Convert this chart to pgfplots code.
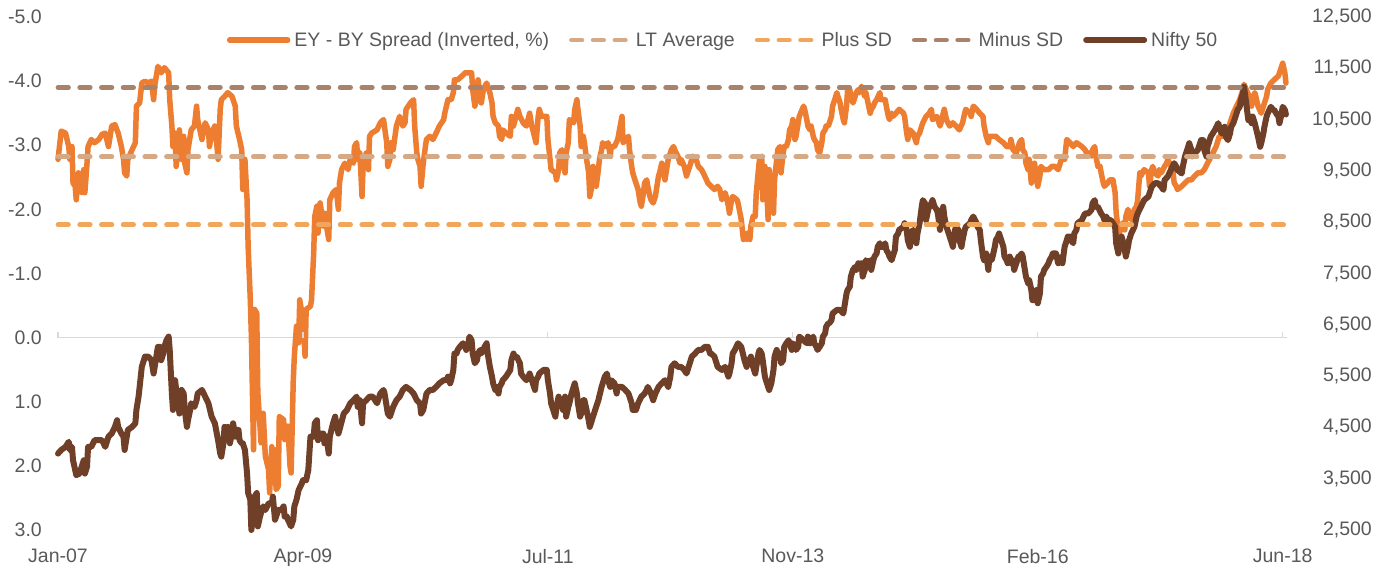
\documentclass[border=0pt]{standalone}
\usepackage{fontspec}
\setmainfont{Liberation Sans}
\usepackage{pgfplots}
\pgfplotsset{compat=1.18}
\definecolor{cSpread}{HTML}{ED7D31}
\definecolor{cLT}{HTML}{D5A886}
\definecolor{cPlus}{HTML}{F0A75C}
\definecolor{cMinus}{HTML}{A9826C}
\definecolor{cNifty}{HTML}{6F3F28}
\definecolor{cText}{HTML}{595959}
\definecolor{cAxis}{HTML}{D9D9D9}
\pgfplotsset{
  base/.style={scale only axis, width=1229bp, height=513bp,
    xmin=2007, xmax=2018.44, clip=false, scaled ticks=false,
    axis line style={draw=none}, major tick length=0pt,
    tick label style={text=cText, font=\fontsize{19.5bp}{23bp}\selectfont}},
  spread/.style={color=cSpread, line width=5.5bp, line join=round, line cap=round},
  nifty/.style={color=cNifty, line width=6bp, line join=round, line cap=round},
  dashl/.style={line width=4.7bp, line cap=round, dash pattern=on 10.5bp off 11.2bp},
}
\begin{document}
\begin{tikzpicture}
\useasboundingbox (-58bp,-40bp) rectangle (1330bp,530bp);
% ---------- left axis: spread ----------
\begin{axis}[base, ymin=-5, ymax=3, y dir=reverse,
  axis x line*=bottom, axis y line*=left, xtick=\empty,
  ytick={-5,-4,-3,-2,-1,0,1,2,3},
  yticklabels={-5.0,-4.0,-3.0,-2.0,-1.0,0.0,1.0,2.0,3.0},
  yticklabel style={inner sep=0pt, anchor=east, xshift=-16bp}]
\addplot[cAxis, line width=1.4bp] coordinates {(2007,0) (2018.44,0)};
\addplot[cAxis, only marks, mark=|, mark size=2.6bp,
  mark options={yshift=2.6bp, line width=1.2bp}]
  coordinates {(2007,0) (2009.28,0) (2011.56,0) (2013.84,0) (2016.12,0) (2018.40,0)};
\addplot[spread] coordinates {
(2007.00,-2.78)(2007.03,-3.22)(2007.07,-3.19)(2007.10,-2.98)(2007.11,-2.78)(2007.13,-2.98)(2007.14,-2.41)(2007.16,-2.36)(2007.17,-2.15)(2007.19,-2.57)(2007.20,-2.31)(2007.22,-2.26)(2007.24,-2.62)(2007.25,-2.26)(2007.27,-2.72)(2007.28,-2.98)(2007.31,-3.09)(2007.34,-3.04)(2007.38,-3.09)(2007.41,-3.17)(2007.44,-3.19)(2007.47,-2.98)(2007.50,-3.30)(2007.53,-3.32)(2007.56,-3.19)(2007.59,-2.98)(2007.61,-2.78)(2007.62,-2.57)(2007.64,-2.52)(2007.65,-2.78)(2007.69,-2.93)(2007.72,-3.04)(2007.73,-3.61)(2007.76,-3.66)(2007.78,-3.97)(2007.81,-4.00)(2007.84,-3.97)(2007.87,-4.00)(2007.89,-3.71)(2007.90,-3.92)(2007.93,-4.23)(2007.96,-4.13)(2007.99,-4.21)(2008.03,-4.13)(2008.04,-3.71)(2008.06,-3.30)(2008.07,-2.98)(2008.09,-3.19)(2008.10,-2.67)(2008.12,-3.04)(2008.13,-3.24)(2008.15,-2.78)(2008.17,-3.14)(2008.18,-2.72)(2008.20,-2.57)(2008.21,-2.93)(2008.24,-3.24)(2008.27,-3.30)(2008.29,-3.61)(2008.30,-3.40)(2008.34,-3.09)(2008.37,-3.35)(2008.40,-3.24)(2008.41,-2.98)(2008.43,-3.19)(2008.46,-3.30)(2008.48,-2.98)(2008.49,-2.78)(2008.51,-3.56)(2008.52,-3.71)(2008.55,-3.76)(2008.58,-3.82)(2008.62,-3.76)(2008.65,-3.61)(2008.66,-3.30)(2008.69,-3.09)(2008.71,-2.93)(2008.72,-2.31)(2008.74,-2.78)(2008.76,-2.15)(2008.77,-1.42)(2008.79,-0.59)(2008.80,-0.02)(2008.82,1.75)(2008.83,-0.44)(2008.85,-0.38)(2008.86,0.86)(2008.89,1.64)(2008.91,1.18)(2008.93,1.85)(2008.96,2.06)(2008.97,2.42)(2008.99,1.70)(2009.00,1.90)(2009.02,1.75)(2009.03,2.37)(2009.05,2.32)(2009.06,1.23)(2009.10,1.28)(2009.11,1.59)(2009.14,1.38)(2009.16,2.01)(2009.17,2.11)(2009.19,0.66)(2009.20,0.29)(2009.22,-0.18)(2009.24,0.08)
(2009.25,-0.59)(2009.28,-0.28)(2009.30,0.29)(2009.31,-0.44)(2009.35,-0.49)(2009.36,-0.59)(2009.38,-1.32)(2009.39,-1.89)(2009.41,-2.05)(2009.42,-1.63)(2009.44,-2.10)(2009.47,-1.74)(2009.48,-1.94)(2009.52,-1.53)(2009.53,-2.15)(2009.56,-2.26)(2009.59,-2.31)(2009.61,-2.00)(2009.62,-2.41)(2009.64,-2.62)(2009.67,-2.72)(2009.70,-2.62)(2009.72,-2.78)(2009.75,-2.72)(2009.76,-2.98)(2009.78,-3.04)(2009.79,-2.78)(2009.81,-2.88)(2009.83,-2.20)(2009.84,-2.67)(2009.87,-2.88)(2009.89,-2.62)(2009.90,-3.14)(2009.92,-3.19)(2009.97,-3.24)(2010.00,-3.35)(2010.03,-3.40)(2010.06,-3.04)(2010.07,-2.67)(2010.09,-2.78)(2010.10,-3.04)(2010.12,-2.93)(2010.15,-3.30)(2010.18,-3.45)(2010.21,-3.30)(2010.23,-3.35)(2010.24,-3.56)(2010.28,-3.66)(2010.31,-3.71)(2010.32,-3.30)(2010.34,-2.88)(2010.35,-2.78)(2010.37,-2.67)(2010.38,-2.36)(2010.40,-2.72)(2010.42,-2.98)(2010.43,-3.09)(2010.46,-3.14)(2010.49,-3.09)(2010.52,-3.19)(2010.55,-3.30)(2010.59,-3.40)(2010.60,-3.50)(2010.63,-3.71)(2010.66,-3.71)(2010.68,-3.82)(2010.69,-4.02)(2010.72,-4.02)(2010.76,-4.08)(2010.79,-4.13)(2010.82,-4.13)(2010.85,-4.13)(2010.86,-3.87)(2010.88,-3.61)(2010.90,-3.76)(2010.91,-4.02)(2010.93,-3.76)(2010.94,-3.66)(2010.96,-3.87)(2010.99,-3.97)(2011.02,-3.82)(2011.04,-3.66)(2011.05,-3.45)(2011.07,-3.35)(2011.10,-3.30)(2011.11,-3.14)(2011.13,-3.09)(2011.14,-3.24)(2011.17,-3.19)(2011.21,-3.14)(2011.22,-3.45)(2011.24,-3.30)(2011.28,-3.56)(2011.30,-3.45)(2011.33,-3.35)(2011.36,-3.30)(2011.39,-3.50)(2011.41,-3.30)(2011.42,-3.24)(2011.45,-3.04)(2011.47,-3.45)(2011.48,-3.56)(2011.50,-3.45)(2011.53,-3.45)
(2011.55,-3.45)(2011.56,-3.09)(2011.58,-2.78)(2011.59,-2.62)(2011.63,-2.57)(2011.64,-2.46)(2011.66,-2.62)(2011.67,-2.88)(2011.69,-2.93)(2011.70,-2.78)(2011.72,-2.57)(2011.73,-2.88)(2011.75,-3.04)(2011.76,-3.40)(2011.80,-3.35)(2011.81,-3.56)(2011.83,-3.71)(2011.84,-3.56)(2011.86,-3.30)(2011.87,-2.98)(2011.89,-3.14)(2011.90,-3.04)(2011.92,-2.78)(2011.94,-2.57)(2011.95,-2.20)(2011.97,-2.36)(2011.98,-2.67)(2012.00,-2.57)(2012.01,-2.36)(2012.03,-2.62)(2012.04,-2.78)(2012.06,-2.93)(2012.07,-3.04)(2012.09,-2.98)(2012.12,-3.04)(2012.14,-2.83)(2012.15,-2.98)(2012.18,-2.98)(2012.21,-3.09)(2012.25,-3.45)(2012.26,-3.04)(2012.29,-3.09)(2012.31,-3.14)(2012.32,-2.93)(2012.34,-2.67)(2012.35,-2.57)(2012.37,-2.46)(2012.38,-2.41)(2012.40,-2.31)(2012.42,-2.10)(2012.43,-2.05)(2012.45,-2.26)(2012.46,-2.41)(2012.48,-2.46)(2012.49,-2.36)(2012.51,-2.20)(2012.52,-2.15)(2012.54,-2.10)(2012.56,-2.20)(2012.59,-2.52)(2012.60,-2.57)(2012.62,-2.72)(2012.63,-2.62)(2012.65,-2.46)(2012.66,-2.57)(2012.68,-2.78)(2012.71,-2.93)(2012.73,-2.98)(2012.74,-2.93)(2012.77,-2.83)(2012.79,-2.72)(2012.80,-2.78)(2012.83,-2.67)(2012.85,-2.52)(2012.87,-2.62)(2012.88,-2.67)(2012.90,-2.78)(2012.91,-2.83)(2012.94,-2.78)(2012.96,-2.67)(2012.99,-2.62)(2013.02,-2.52)(2013.05,-2.41)(2013.08,-2.36)(2013.11,-2.31)(2013.14,-2.36)(2013.16,-2.31)(2013.18,-2.15)(2013.21,-2.26)(2013.22,-2.20)(2013.24,-2.05)(2013.25,-1.94)(2013.27,-2.15)(2013.28,-2.20)(2013.32,-2.15)(2013.33,-2.10)(2013.36,-1.84)(2013.38,-1.53)(2013.39,-1.58)(2013.41,-1.53)(2013.42,-1.63)(2013.44,-1.53)(2013.45,-1.74)(2013.47,-1.89)(2013.49,-1.89)(2013.50,-2.26)(2013.52,-2.62)(2013.53,-2.78)(2013.55,-2.83)(2013.56,-2.15)(2013.58,-2.67)(2013.59,-2.57)(2013.61,-1.84)(2013.62,-2.62)(2013.64,-2.26)(2013.66,-1.94)(2013.67,-2.46)(2013.69,-2.78)(2013.70,-2.93)(2013.72,-2.98)(2013.73,-2.57)(2013.75,-2.88)(2013.76,-2.98)(2013.78,-2.98)(2013.80,-3.09)(2013.81,-3.24)
(2013.83,-3.30)(2013.84,-3.40)(2013.86,-3.09)(2013.87,-3.14)(2013.89,-3.35)(2013.90,-3.45)(2013.94,-3.61)(2013.95,-3.56)(2013.97,-3.40)(2013.98,-3.30)(2014.00,-3.24)(2014.01,-3.30)(2014.03,-3.14)(2014.04,-3.09)(2014.06,-3.04)(2014.07,-2.93)(2014.09,-2.88)(2014.11,-3.04)(2014.12,-3.19)(2014.14,-3.24)(2014.15,-3.30)(2014.17,-3.30)(2014.18,-3.35)(2014.20,-3.45)(2014.21,-3.61)(2014.23,-3.71)(2014.25,-3.82)(2014.26,-3.76)(2014.28,-3.66)(2014.29,-3.56)(2014.31,-3.40)(2014.32,-3.35)(2014.34,-3.61)(2014.35,-3.87)(2014.37,-3.87)(2014.38,-3.76)(2014.40,-3.66)(2014.42,-3.76)(2014.43,-3.82)(2014.45,-3.87)(2014.46,-3.82)(2014.48,-3.92)(2014.49,-3.87)(2014.51,-3.76)(2014.52,-3.82)(2014.54,-3.66)(2014.56,-3.50)(2014.57,-3.56)(2014.59,-3.61)(2014.60,-3.66)(2014.62,-3.71)(2014.65,-3.82)(2014.66,-3.71)(2014.70,-3.71)(2014.71,-3.61)(2014.73,-3.45)(2014.74,-3.40)(2014.76,-3.50)(2014.77,-3.45)(2014.80,-3.50)(2014.83,-3.56)(2014.87,-3.50)(2014.88,-3.45)(2014.90,-3.19)(2014.91,-3.09)(2014.93,-3.24)(2014.96,-3.19)(2014.97,-3.14)(2014.99,-3.04)(2015.00,-3.14)(2015.02,-3.19)(2015.04,-3.30)(2015.05,-3.35)(2015.08,-3.45)(2015.11,-3.50)(2015.13,-3.56)(2015.14,-3.40)(2015.18,-3.45)(2015.21,-3.30)(2015.22,-3.35)(2015.24,-3.50)(2015.25,-3.56)(2015.27,-3.40)(2015.30,-3.30)(2015.33,-3.35)(2015.36,-3.30)(2015.39,-3.24)(2015.42,-3.35)(2015.44,-3.50)(2015.45,-3.56)(2015.49,-3.50)(2015.50,-3.45)(2015.52,-3.61)(2015.55,-3.56)(2015.58,-3.50)(2015.61,-3.45)(2015.62,-3.30)(2015.64,-3.14)(2015.66,-3.04)(2015.67,-3.14)(2015.70,-3.14)(2015.73,-3.14)(2015.76,-3.09)(2015.80,-3.04)(2015.83,-2.98)(2015.86,-2.98)(2015.87,-3.09)(2015.89,-2.93)(2015.92,-2.88)(2015.95,-3.04)(2015.97,-3.09)(2015.98,-2.93)(2016.00,-2.88)(2016.01,-2.72)(2016.03,-2.62)(2016.04,-2.78)(2016.06,-2.41)(2016.07,-2.57)(2016.09,-2.72)
(2016.11,-2.46)(2016.12,-2.36)(2016.14,-2.52)(2016.15,-2.67)(2016.18,-2.62)(2016.22,-2.62)(2016.25,-2.67)(2016.28,-2.67)(2016.31,-2.62)(2016.34,-2.78)(2016.37,-2.78)(2016.39,-3.09)(2016.42,-3.04)(2016.45,-2.98)(2016.48,-3.04)(2016.53,-2.98)(2016.56,-2.93)(2016.59,-2.83)(2016.60,-2.88)(2016.62,-2.83)(2016.63,-2.93)(2016.65,-2.98)(2016.66,-2.83)(2016.68,-2.67)(2016.70,-2.67)(2016.71,-2.57)(2016.73,-2.41)(2016.74,-2.36)(2016.77,-2.41)(2016.79,-2.46)(2016.82,-2.46)(2016.84,-2.26)(2016.85,-1.94)(2016.87,-1.68)(2016.88,-1.63)(2016.90,-1.74)(2016.91,-1.79)(2016.93,-1.68)(2016.94,-1.89)(2016.96,-2.00)(2016.97,-1.94)(2016.99,-1.84)(2017.01,-1.94)(2017.02,-2.00)(2017.04,-2.05)(2017.05,-2.15)(2017.07,-2.57)(2017.08,-2.52)(2017.11,-2.62)(2017.15,-2.57)(2017.16,-2.36)(2017.18,-2.62)(2017.19,-2.67)(2017.21,-2.57)(2017.24,-2.52)(2017.25,-2.62)(2017.27,-2.57)(2017.30,-2.67)(2017.32,-2.72)(2017.33,-2.78)(2017.36,-2.67)(2017.38,-2.57)(2017.39,-2.41)(2017.41,-2.36)(2017.42,-2.31)(2017.46,-2.36)(2017.49,-2.41)(2017.52,-2.46)(2017.55,-2.46)(2017.58,-2.52)(2017.61,-2.57)(2017.64,-2.57)(2017.67,-2.62)(2017.70,-2.72)(2017.72,-2.78)(2017.73,-2.83)(2017.75,-2.88)(2017.78,-2.98)(2017.81,-3.14)(2017.84,-3.14)(2017.87,-3.19)(2017.90,-3.30)(2017.94,-3.50)(2017.97,-3.61)(2018.00,-3.71)(2018.03,-3.87)(2018.04,-3.95)(2018.06,-3.87)(2018.09,-3.76)(2018.11,-3.61)(2018.12,-3.71)(2018.14,-3.82)(2018.15,-3.76)(2018.17,-3.61)(2018.20,-3.50)(2018.23,-3.66)(2018.25,-3.76)(2018.26,-3.87)(2018.29,-3.97)(2018.32,-4.02)(2018.36,-4.08)(2018.37,-4.13)(2018.39,-4.23)(2018.40,-4.28)(2018.42,-4.13)(2018.43,-3.97)
};
\end{axis}
% ---------- right axis: Nifty ----------
\begin{axis}[base, ymin=2500, ymax=12500,
  axis x line*=bottom, axis y line*=right,
  xtick={2007,2009.28,2011.56,2013.84,2016.12,2018.40},
  xticklabels={Jan-07,Apr-09,Jul-11,Nov-13,Feb-16,Jun-18},
  xticklabel style={inner sep=0pt, anchor=north, yshift=-19bp},
  ytick={2500,3500,4500,5500,6500,7500,8500,9500,10500,11500,12500},
  yticklabels={{2,500},{3,500},{4,500},{5,500},{6,500},{7,500},{8,500},{9,500},{10,500},{11,500},{12,500}},
  yticklabel style={inner sep=0pt, anchor=east, xshift=85bp}]
\addplot[nifty] coordinates {
(2007.00,3990)(2007.03,4060)(2007.07,4120)(2007.10,4220)(2007.11,4060)(2007.13,4120)(2007.14,3860)(2007.16,3670)(2007.17,3570)(2007.20,3600)(2007.22,3730)(2007.24,3860)(2007.25,3600)(2007.27,3730)(2007.28,4120)(2007.31,4120)(2007.34,4250)(2007.38,4250)(2007.41,4250)(2007.44,4120)(2007.45,4190)(2007.47,4320)(2007.50,4380)(2007.53,4510)(2007.55,4640)(2007.56,4510)(2007.59,4380)(2007.61,4320)(2007.62,4060)(2007.64,4320)(2007.65,4450)(2007.69,4510)(2007.72,4580)(2007.73,4840)(2007.75,5100)(2007.76,5290)(2007.78,5680)(2007.79,5750)(2007.81,5880)(2007.84,5880)(2007.87,5810)(2007.89,5550)(2007.90,5680)(2007.92,5940)(2007.93,6070)(2007.95,6070)(2007.96,5810)(2007.98,5940)(2007.99,6070)(2008.01,6200)(2008.03,6270)(2008.04,6010)(2008.06,5160)(2008.07,4840)(2008.09,5420)(2008.10,5230)(2008.12,4970)(2008.13,4770)(2008.15,5230)(2008.17,5160)(2008.18,4840)(2008.20,4510)(2008.21,4640)(2008.23,4840)(2008.24,4970)(2008.27,4900)(2008.29,5030)(2008.30,5160)(2008.34,5230)(2008.37,5100)(2008.40,4970)(2008.43,4710)(2008.46,4580)(2008.49,4250)(2008.51,3990)(2008.52,3930)(2008.54,4190)(2008.55,4510)(2008.57,4450)(2008.58,4510)(2008.60,4190)(2008.62,4380)(2008.63,4580)(2008.65,4320)(2008.66,4450)(2008.68,4450)(2008.69,4250)(2008.71,4190)(2008.72,4190)(2008.74,4060)(2008.76,3600)(2008.77,3220)(2008.79,3090)(2008.80,2500)(2008.82,2830)(2008.83,3150)(2008.85,3220)(2008.86,2570)(2008.88,2760)(2008.89,2830)(2008.91,2960)(2008.93,2890)(2008.96,3020)(2008.99,3020)(2009.00,3150)(2009.02,2700)(2009.03,2760)(2009.05,2890)(2009.08,2890)(2009.10,2960)(2009.11,2760)(2009.13,2760)(2009.14,2700)(2009.17,2570)(2009.19,2700)(2009.20,2960)(2009.22,3090)(2009.24,3280)
(2009.27,3410)(2009.28,3470)(2009.31,3470)(2009.33,3670)(2009.35,4320)(2009.38,4320)(2009.39,4580)(2009.41,4640)(2009.42,4250)(2009.44,4380)(2009.47,4380)(2009.48,4190)(2009.50,4320)(2009.52,3990)(2009.53,4320)(2009.56,4580)(2009.58,4710)(2009.59,4580)(2009.61,4380)(2009.62,4450)(2009.66,4770)(2009.69,4840)(2009.72,4970)(2009.75,5030)(2009.78,5100)(2009.79,4900)(2009.81,5030)(2009.83,4580)(2009.84,4970)(2009.87,5030)(2009.90,5100)(2009.93,5100)(2009.97,4970)(2010.00,5160)(2010.03,5230)(2010.04,5160)(2010.06,4900)(2010.07,4770)(2010.09,4710)(2010.12,4900)(2010.15,5030)(2010.18,5100)(2010.21,5230)(2010.24,5290)(2010.28,5230)(2010.31,5160)(2010.34,5030)(2010.37,4970)(2010.38,4770)(2010.40,4840)(2010.43,5160)(2010.46,5230)(2010.49,5230)(2010.52,5290)(2010.55,5360)(2010.59,5420)(2010.62,5420)(2010.63,5490)(2010.65,5360)(2010.66,5420)(2010.68,5620)(2010.69,5940)(2010.71,5940)(2010.72,6010)(2010.74,6070)(2010.77,6140)(2010.79,6070)(2010.80,6010)(2010.82,6140)(2010.83,6270)(2010.85,6200)(2010.86,5940)(2010.88,5750)(2010.90,5810)(2010.91,5940)(2010.93,6010)(2010.94,5940)(2010.96,6010)(2010.97,6070)(2010.99,6140)(2011.00,5940)(2011.02,5680)(2011.04,5490)(2011.05,5360)(2011.07,5230)(2011.08,5290)(2011.10,5160)(2011.11,5290)(2011.13,5360)(2011.14,5420)(2011.17,5490)(2011.21,5620)(2011.22,5810)(2011.24,5940)(2011.25,5880)(2011.27,5880)(2011.30,5750)(2011.31,5550)(2011.33,5490)(2011.36,5420)(2011.38,5490)(2011.39,5550)(2011.42,5360)(2011.44,5230)(2011.45,5420)(2011.47,5490)(2011.48,5550)(2011.52,5620)
(2011.55,5620)(2011.56,5420)(2011.58,5160)(2011.59,4970)(2011.61,4840)(2011.63,4710)(2011.64,4900)(2011.66,5100)(2011.67,5030)(2011.69,4970)(2011.70,4840)(2011.72,5100)(2011.73,4710)(2011.75,4900)(2011.76,4970)(2011.78,5160)(2011.80,5290)(2011.81,5360)(2011.83,5160)(2011.84,4970)(2011.86,4710)(2011.87,4770)(2011.89,5030)(2011.90,5030)(2011.92,4840)(2011.94,4640)(2011.95,4510)(2011.97,4640)(2011.98,4710)(2012.00,4840)(2012.03,5030)(2012.06,5290)(2012.09,5490)(2012.11,5550)(2012.12,5420)(2012.14,5290)(2012.15,5420)(2012.18,5360)(2012.20,5160)(2012.21,5290)(2012.25,5290)(2012.28,5230)(2012.31,5160)(2012.34,4970)(2012.35,4840)(2012.38,4840)(2012.40,4970)(2012.43,5100)(2012.46,5160)(2012.48,5230)(2012.49,5290)(2012.52,5160)(2012.54,5030)(2012.56,5160)(2012.59,5290)(2012.62,5360)(2012.65,5420)(2012.68,5290)(2012.70,5490)(2012.71,5680)(2012.74,5750)(2012.77,5680)(2012.80,5680)(2012.83,5620)(2012.85,5550)(2012.87,5680)(2012.90,5880)(2012.93,5940)(2012.96,6010)(2012.99,6010)(2013.02,6070)(2013.05,6070)(2013.07,5940)(2013.08,5940)(2013.11,5880)(2013.13,5750)(2013.14,5680)(2013.18,5620)(2013.21,5680)(2013.22,5620)(2013.24,5490)(2013.25,5550)(2013.27,5750)(2013.28,5940)(2013.30,6010)(2013.33,6140)(2013.36,6070)(2013.39,5810)(2013.41,5680)(2013.42,5750)(2013.45,5880)(2013.47,5680)(2013.49,5550)(2013.52,5940)(2013.53,6010)(2013.55,5940)(2013.56,5810)(2013.58,5490)(2013.59,5420)(2013.61,5290)(2013.62,5230)(2013.64,5360)(2013.66,5620)(2013.67,5880)(2013.69,6010)(2013.70,5940)(2013.72,5940)(2013.73,5750)(2013.75,5810)(2013.76,6070)(2013.78,6140)(2013.80,6200)
(2013.83,6010)(2013.84,6140)(2013.86,6070)(2013.87,6010)(2013.89,6070)(2013.90,6270)(2013.94,6200)(2013.97,6140)(2013.98,6270)(2014.00,6140)(2014.01,6200)(2014.03,6270)(2014.04,6140)(2014.06,6070)(2014.07,6010)(2014.09,6070)(2014.11,6140)(2014.12,6270)(2014.14,6330)(2014.15,6460)(2014.17,6530)(2014.18,6530)(2014.20,6590)(2014.21,6720)(2014.25,6790)(2014.28,6790)(2014.31,6720)(2014.32,6850)(2014.34,7110)(2014.35,7180)(2014.37,7240)(2014.38,7440)(2014.40,7570)(2014.42,7630)(2014.43,7570)(2014.45,7700)(2014.46,7630)(2014.48,7700)(2014.49,7440)(2014.51,7570)(2014.52,7760)(2014.54,7700)(2014.56,7760)(2014.57,7570)(2014.59,7760)(2014.60,7830)(2014.62,7890)(2014.63,8020)(2014.65,8090)(2014.66,8020)(2014.68,8020)(2014.70,8090)(2014.71,7960)(2014.73,7890)(2014.74,7830)(2014.76,7760)(2014.77,7830)(2014.79,7960)(2014.80,8220)(2014.82,8280)(2014.83,8350)(2014.87,8410)(2014.88,8480)(2014.90,8350)(2014.91,8150)(2014.93,8020)(2014.94,8280)(2014.96,8350)(2014.97,8220)(2014.99,8090)(2015.00,8280)(2015.02,8480)(2015.04,8800)(2015.05,8930)(2015.07,8870)(2015.08,8540)(2015.10,8740)(2015.11,8800)(2015.13,8870)(2015.14,8930)(2015.16,8800)(2015.18,8740)(2015.19,8670)(2015.21,8350)(2015.22,8670)(2015.24,8800)(2015.25,8610)(2015.27,8410)(2015.28,8350)(2015.30,8220)(2015.32,8090)(2015.33,8020)(2015.35,8350)(2015.36,8410)(2015.38,8350)(2015.39,8150)(2015.41,8020)(2015.42,8150)(2015.44,8350)(2015.45,8410)(2015.49,8480)(2015.50,8540)(2015.52,8610)(2015.55,8480)(2015.56,8410)(2015.58,8350)(2015.59,8150)(2015.61,7830)(2015.62,7760)(2015.64,7890)(2015.66,7570)(2015.67,7830)(2015.69,7760)(2015.70,7830)(2015.72,8020)(2015.73,8150)(2015.75,8220)(2015.76,8280)(2015.78,8150)(2015.80,8020)(2015.81,7830)(2015.83,7760)(2015.84,7700)(2015.86,7830)(2015.87,7700)(2015.89,7760)(2015.90,7570)(2015.92,7700)(2015.94,7830)(2015.95,7830)(2015.97,7890)(2015.98,7830)(2016.00,7570)(2016.01,7440)(2016.03,7310)(2016.04,7370)(2016.06,7180)(2016.07,6980)(2016.09,6980)
(2016.11,7180)(2016.12,6920)(2016.14,7110)(2016.15,7440)(2016.17,7500)(2016.18,7570)(2016.20,7630)(2016.22,7700)(2016.23,7760)(2016.25,7830)(2016.26,7890)(2016.28,7890)(2016.29,7890)(2016.31,7700)(2016.32,7760)(2016.34,7830)(2016.35,7700)(2016.37,8020)(2016.39,8150)(2016.40,8220)(2016.42,8220)(2016.43,8150)(2016.45,8090)(2016.46,8280)(2016.48,8350)(2016.49,8480)(2016.53,8540)(2016.56,8670)(2016.59,8670)(2016.62,8740)(2016.63,8870)(2016.65,8930)(2016.66,8800)(2016.68,8800)(2016.71,8670)(2016.73,8610)(2016.74,8540)(2016.76,8610)(2016.77,8540)(2016.80,8540)(2016.82,8480)(2016.84,8410)(2016.85,8090)(2016.87,7890)(2016.88,8020)(2016.90,8220)(2016.91,8150)(2016.93,7960)(2016.94,7830)(2016.96,8020)(2016.97,8150)(2016.99,8280)(2017.02,8410)(2017.04,8610)(2017.05,8670)(2017.08,8800)(2017.11,8930)(2017.15,9000)(2017.16,9060)(2017.18,9190)(2017.21,9260)(2017.24,9260)(2017.27,9190)(2017.29,9130)(2017.30,9320)(2017.33,9390)(2017.36,9520)(2017.39,9650)(2017.41,9580)(2017.42,9520)(2017.46,9450)(2017.47,9580)(2017.49,9780)(2017.52,9970)(2017.53,10040)(2017.55,9910)(2017.56,9780)(2017.58,9840)(2017.61,9910)(2017.64,10100)(2017.66,10100)(2017.67,9910)(2017.69,9780)(2017.70,9970)(2017.73,10170)(2017.77,10300)(2017.80,10430)(2017.81,10360)(2017.83,10230)(2017.86,10360)(2017.87,10170)(2017.89,10100)(2017.91,10230)(2017.92,10360)(2017.94,10430)(2017.95,10490)(2017.97,10620)(2017.98,10690)(2018.00,10750)(2018.01,10880)(2018.03,11010)(2018.04,11140)(2018.06,10820)(2018.08,10490)(2018.09,10560)(2018.11,10430)(2018.12,10560)(2018.14,10430)(2018.17,10170)(2018.19,9970)(2018.20,10040)(2018.22,10230)(2018.23,10360)(2018.25,10560)(2018.26,10620)(2018.29,10750)(2018.31,10690)(2018.32,10690)(2018.34,10620)(2018.36,10560)(2018.37,10430)(2018.39,10620)(2018.40,10750)(2018.42,10690)(2018.43,10600)
};
\end{axis}
% ---------- reference lines and legend ----------
\begin{axis}[base, ymin=-5, ymax=3, y dir=reverse, hide axis,
  legend columns=-1,
  legend image code/.code={\draw[#1] (0bp,0bp) -- (58bp,0bp);},
  legend style={at={(0.542,0.955)}, anchor=center, draw=none, fill=none,
    font=\fontsize{19.5bp}{23bp}\selectfont, text=cText,
    nodes={inner sep=4bp},
    /tikz/every even column/.append style={column sep=16bp}}]
\addlegendimage{spread}
\addlegendentry{EY - BY Spread (Inverted, \%)}
\addplot[cLT, dashl] coordinates {(2007,-2.82) (2018.44,-2.82)};
\addlegendentry{LT Average}
\addplot[cPlus, dashl] coordinates {(2007,-1.76) (2018.44,-1.76)};
\addlegendentry{Plus SD}
\addplot[cMinus, dashl] coordinates {(2007,-3.90) (2018.44,-3.90)};
\addlegendentry{Minus SD}
\addlegendimage{nifty}
\addlegendentry{Nifty 50}
\end{axis}
\end{tikzpicture}
\end{document}
